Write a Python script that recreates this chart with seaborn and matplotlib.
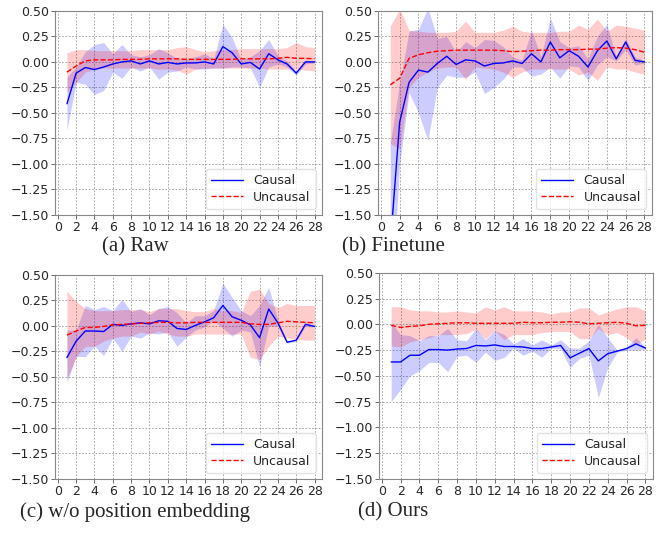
import numpy as np
import pandas as pd
import matplotlib
matplotlib.use("Agg")
import matplotlib.pyplot as plt
import seaborn as sns

# Layer index on the x axis
steps = list(range(1, 29))

# (a) Raw
raw_c = [-0.41, -0.11, -0.055, -0.075, -0.05, -0.02, 0.0, 0.01, -0.02, 0.01, -0.02, -0.005, -0.02, -0.01,
         -0.01, 0.0, -0.02, 0.15, 0.09, -0.02, -0.005, -0.07, 0.08, 0.02, -0.02, -0.11, 0.0, 0.0]
raw_c_lo = [-0.67, -0.2, -0.22, -0.32, -0.28, -0.1, -0.16, -0.05, -0.09, -0.05, -0.17, -0.1, -0.09, -0.05,
            -0.07, -0.07, -0.06, -0.06, -0.05, -0.05, -0.06, -0.25, -0.05, -0.02, -0.05, -0.13, -0.02, -0.01]
raw_c_hi = [-0.15, -0.05, 0.1, 0.17, 0.19, 0.08, 0.17, 0.07, 0.05, 0.07, 0.13, 0.09, 0.03, 0.03,
            0.05, 0.08, 0.03, 0.37, 0.24, 0.02, 0.05, 0.11, 0.22, 0.06, 0.01, -0.09, 0.02, 0.01]
raw_u = [-0.10, -0.04, 0.01, 0.02, 0.02, 0.02, 0.025, 0.025, 0.025, 0.03, 0.03, 0.03, 0.03, 0.025,
         0.025, 0.025, 0.025, 0.025, 0.025, 0.03, 0.03, 0.03, 0.03, 0.035, 0.045, 0.035, 0.035, 0.03]
raw_u_lo = [-0.3, -0.2, -0.1, -0.07, -0.06, -0.06, -0.06, -0.06, -0.06, -0.06, -0.07, -0.07, -0.08, -0.12,
            -0.07, -0.06, -0.06, -0.06, -0.06, -0.06, -0.06, -0.06, -0.07, -0.07, -0.07, -0.07, -0.08, -0.09]
raw_u_hi = [0.09, 0.12, 0.12, 0.11, 0.11, 0.11, 0.11, 0.11, 0.12, 0.12, 0.12, 0.12, 0.14, 0.15,
            0.12, 0.10, 0.11, 0.12, 0.12, 0.13, 0.13, 0.13, 0.13, 0.13, 0.14, 0.19, 0.15, 0.14]

# (b) Finetune
ft_c = [-1.8, -0.59, -0.2, -0.08, -0.1, -0.015, 0.055, -0.025, 0.02, 0.01, -0.04, -0.015, -0.01, 0.01,
        -0.015, 0.08, 0.0, 0.195, 0.04, 0.11, 0.055, -0.05, 0.11, 0.205, 0.03, 0.195, 0.015, 0.0]
ft_c_lo = [-2.5, -1.0, -0.3, -0.5, -0.77, -0.25, -0.13, -0.15, -0.15, -0.1, -0.31, -0.25, -0.17, -0.05,
           -0.05, -0.14, -0.12, -0.05, -0.16, -0.04, -0.05, -0.18, -0.03, 0.05, 0.01, 0.12, -0.03, -0.01]
ft_c_hi = [-0.8, -0.2, 0.3, 0.32, 0.53, 0.23, 0.25, 0.09, 0.2, 0.14, 0.22, 0.21, 0.15, 0.05,
           0.02, 0.31, 0.05, 0.43, 0.2, 0.14, 0.16, 0.03, 0.25, 0.37, 0.05, 0.23, 0.05, 0.01]
ft_u = [-0.225, -0.16, 0.035, 0.07, 0.09, 0.105, 0.11, 0.115, 0.115, 0.115, 0.115, 0.115, 0.11, 0.10,
        0.105, 0.11, 0.115, 0.115, 0.12, 0.12, 0.12, 0.125, 0.125, 0.135, 0.14, 0.135, 0.12, 0.095]
ft_u_lo = [-0.8, -0.85, -0.25, -0.15, -0.1, -0.06, -0.05, -0.05, -0.17, -0.05, -0.06, -0.07, -0.1, -0.15,
           -0.1, -0.07, -0.07, -0.07, -0.07, -0.07, -0.13, -0.1, -0.18, -0.05, -0.07, -0.07, -0.1, -0.12]
ft_u_hi = [0.35, 0.52, 0.31, 0.3, 0.29, 0.29, 0.29, 0.3, 0.4, 0.29, 0.29, 0.29, 0.31, 0.35,
           0.3, 0.29, 0.29, 0.29, 0.3, 0.3, 0.36, 0.32, 0.42, 0.3, 0.36, 0.35, 0.33, 0.31]

# (c) w/o position embedding
wo_c = [-0.31, -0.15, -0.05, -0.05, -0.055, 0.015, 0.005, 0.02, 0.03, 0.02, 0.05, 0.045, -0.025, -0.035,
        0.005, 0.04, 0.08, 0.2, 0.09, 0.055, 0.01, -0.115, 0.165, 0.03, -0.16, -0.14, 0.015, -0.005]
wo_c_lo = [-0.55, -0.3, -0.3, -0.2, -0.29, -0.12, -0.25, -0.1, -0.12, -0.07, -0.08, -0.06, -0.2, -0.11,
           -0.04, -0.01, 0.05, -0.02, -0.1, -0.04, -0.06, -0.4, 0.0, 0.0, -0.17, -0.15, 0.0, -0.01]
wo_c_hi = [-0.04, -0.04, 0.2, 0.16, 0.19, 0.15, 0.26, 0.14, 0.17, 0.11, 0.17, 0.19, 0.13, 0.03,
           0.1, 0.1, 0.15, 0.42, 0.28, 0.15, 0.1, 0.2, 0.38, 0.06, -0.15, -0.13, 0.03, 0.0]
wo_u = [-0.09, -0.05, -0.015, -0.015, -0.005, 0.01, 0.015, 0.02, 0.025, 0.03, 0.035, 0.035, 0.03, 0.03,
        0.035, 0.035, 0.035, 0.035, 0.035, 0.035, 0.02, 0.015, 0.015, 0.03, 0.045, 0.04, 0.035, 0.03]
wo_u_lo = [-0.52, -0.3, -0.2, -0.2, -0.15, -0.12, -0.1, -0.1, -0.06, -0.08, -0.05, -0.08, -0.1, -0.1,
           -0.08, -0.08, -0.08, -0.08, -0.08, -0.08, -0.31, -0.33, -0.2, -0.1, -0.12, -0.13, -0.14, -0.14]
wo_u_hi = [0.34, 0.24, 0.17, 0.15, 0.15, 0.15, 0.16, 0.16, 0.16, 0.14, 0.17, 0.17, 0.17, 0.15,
           0.14, 0.14, 0.17, 0.15, 0.15, 0.13, 0.34, 0.36, 0.22, 0.18, 0.22, 0.2, 0.2, 0.2]

# (d) Ours
ours_c = [-0.365, -0.365, -0.3, -0.3, -0.245, -0.245, -0.25, -0.24, -0.235, -0.205, -0.21, -0.2, -0.215, -0.215,
          -0.22, -0.235, -0.235, -0.22, -0.205, -0.325, -0.28, -0.235, -0.355, -0.285, -0.26, -0.235, -0.19, -0.23]
ours_c_lo = [-0.75, -0.63, -0.5, -0.45, -0.37, -0.37, -0.46, -0.31, -0.3, -0.37, -0.27, -0.35, -0.32, -0.23,
             -0.3, -0.26, -0.32, -0.23, -0.24, -0.42, -0.33, -0.3, -0.71, -0.42, -0.27, -0.25, -0.25, -0.24]
ours_c_hi = [0.02, -0.1, -0.11, -0.16, -0.11, -0.11, -0.04, -0.15, -0.16, -0.04, -0.15, -0.06, -0.1, -0.19,
             -0.14, -0.2, -0.15, -0.2, -0.15, -0.23, -0.23, -0.16, 0.0, -0.13, -0.25, -0.22, -0.13, -0.22]
ours_u = [-0.01, -0.03, -0.02, -0.015, 0.0, 0.005, 0.01, 0.015, 0.015, 0.01, 0.01, 0.01, 0.01, 0.01,
          0.02, 0.015, 0.015, 0.02, 0.02, 0.025, 0.02, 0.005, 0.01, 0.015, 0.02, 0.01, -0.015, -0.01]
ours_u_lo = [-0.21, -0.22, -0.17, -0.15, -0.13, -0.1, -0.1, -0.1, -0.09, -0.05, -0.14, -0.06, -0.15, -0.1,
             -0.1, -0.1, -0.08, -0.07, -0.07, -0.07, -0.14, -0.14, -0.04, -0.1, -0.08, -0.13, -0.2, -0.14]
ours_u_hi = [0.17, 0.17, 0.14, 0.13, 0.13, 0.12, 0.12, 0.13, 0.12, 0.11, 0.17, 0.14, 0.17, 0.13,
             0.13, 0.13, 0.12, 0.1, 0.12, 0.12, 0.16, 0.16, 0.09, 0.12, 0.15, 0.17, 0.17, 0.13]

panels = [
    ("(a) Raw", raw_c, raw_c_lo, raw_c_hi, raw_u, raw_u_lo, raw_u_hi),
    ("(b) Finetune", ft_c, ft_c_lo, ft_c_hi, ft_u, ft_u_lo, ft_u_hi),
    ("(c) w/o position embedding", wo_c, wo_c_lo, wo_c_hi, wo_u, wo_u_lo, wo_u_hi),
    ("(d) Ours", ours_c, ours_c_lo, ours_c_hi, ours_u, ours_u_lo, ours_u_hi),
]

sns.set_style("white")
plt.rcParams['font.family'] = ['DejaVu Sans']

fig = plt.figure(figsize=(6.59, 5.33), dpi=100)

boxes = [
    [0.0835, 0.5966, 0.405, 0.383],
    [0.5736, 0.5966, 0.4158, 0.383],
    [0.0835, 0.1013, 0.405, 0.383],
    [0.5750, 0.1013, 0.4158, 0.387],
]
captions_xy = [(0.205, 0.536), (0.597, 0.536), (0.205, 0.040), (0.597, 0.040)]

for (title, c, c_lo, c_hi, u, u_lo, u_hi), box, cap in zip(panels, boxes, captions_xy):
    ax = fig.add_axes(box)
    df = pd.DataFrame({"step": steps, "causal": c, "uncausal": u})
    ax.fill_between(steps, c_lo, c_hi, color="blue", alpha=0.2, linewidth=0)
    ax.fill_between(steps, u_lo, u_hi, color="red", alpha=0.2, linewidth=0)
    sns.lineplot(data=df, x="step", y="causal", color="blue", linewidth=1, label="Causal", ax=ax)
    sns.lineplot(data=df, x="step", y="uncausal", color="red", linewidth=1, linestyle="--",
                 label="Uncausal", ax=ax)
    ax.set_xlim(-0.3, 28.8)
    ax.set_ylim(-1.5, 0.5)
    ax.set_xticks(np.arange(0, 29, 2))
    ax.set_yticks(np.arange(-1.5, 0.51, 0.25))
    ax.set_yticklabels([f"{v:.2f}".replace("-", "\u2212") for v in np.arange(-1.5, 0.51, 0.25)])
    ax.set_xlabel("")
    ax.set_ylabel("")
    ax.grid(True, linestyle=(0, (2, 2)), linewidth=0.6, color="#999999")
    ax.tick_params(axis="both", labelsize=9, length=3, width=0.6, color="#555555", pad=1.5,
                   bottom=True, left=True)
    for s in ax.spines.values():
        s.set_color("#888888")
        s.set_linewidth(0.8)
    leg = ax.legend(loc="lower right", fontsize=9, frameon=True, handlelength=2.6,
                    borderpad=0.4, labelspacing=0.3)
    leg.get_frame().set_edgecolor("#dddddd")
    fig.text(cap[0], cap[1], title, ha="center", va="center", fontsize=15,
             family=["Liberation Serif", "DejaVu Serif"])

fig.savefig("out.png", dpi=100)
